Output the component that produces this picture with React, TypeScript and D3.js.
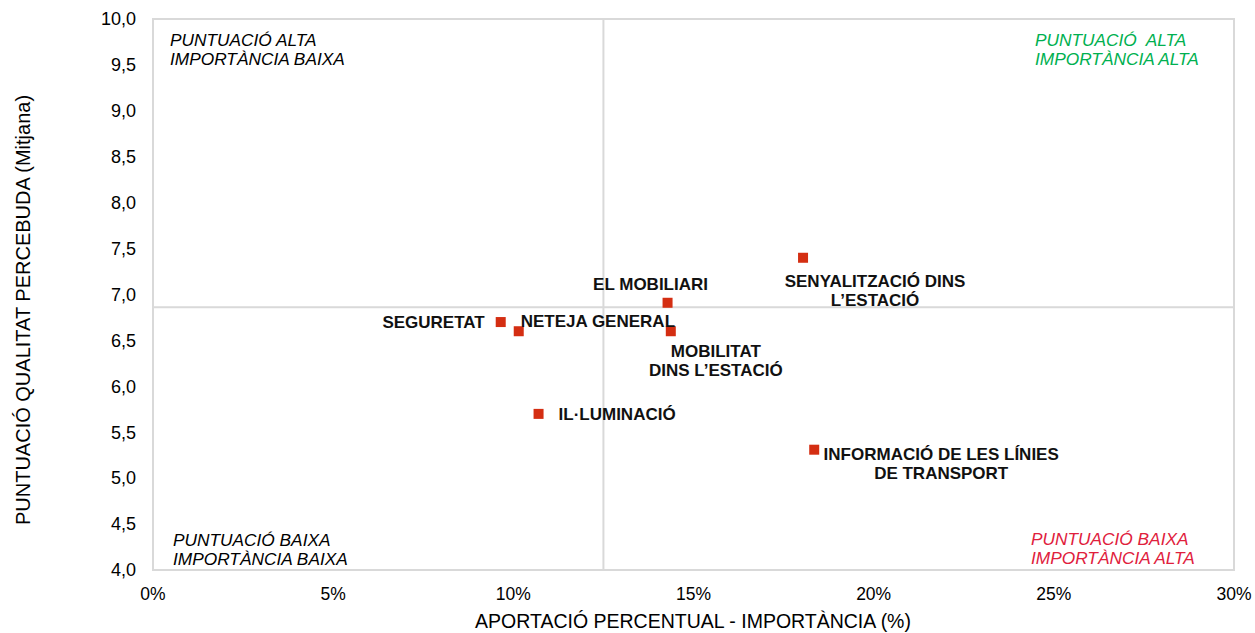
import React from 'react';
import * as d3 from 'd3';

// Dades llegides del gràfic
const items = ['SEGURETAT', 'NETEJA GENERAL', 'EL MOBILIARI', 'MOBILITAT DINS L\u2019ESTACIÓ', 'IL·LUMINACIÓ', 'SENYALITZACIÓ DINS L\u2019ESTACIÓ', 'INFORMACIÓ DE LES LÍNIES DE TRANSPORT'];
const importance = [9.65, 10.15, 14.28, 14.37, 10.7, 18.04, 18.35];
const score = [6.7, 6.6, 6.91, 6.6, 5.7, 7.4, 5.31];
const labelLines = [['SEGURETAT'], ['NETEJA GENERAL'], ['EL MOBILIARI'], ['MOBILITAT', 'DINS L\u2019ESTACIÓ'], ['IL·LUMINACIÓ'], ['SENYALITZACIÓ DINS', 'L\u2019ESTACIÓ'], ['INFORMACIÓ DE LES LÍNIES', 'DE TRANSPORT']];
const xTicks = [0, 5, 10, 15, 20, 25, 30];
const yTicks = [4, 4.5, 5, 5.5, 6, 6.5, 7, 7.5, 8, 8.5, 9, 9.5, 10];
const meanImportance = 12.5;
const meanScore = 6.86;

// label placement relative to the point: dx, dy, anchor
const labelPos: [number, number, string][] = [
  [-16, 6, 'end'],
  [2, -4, 'start'],
  [-17, -13, 'middle'],
  [45, 26, 'middle'],
  [20, 6, 'start'],
  [72, 29, 'middle'],
  [127, 10, 'middle'],
];

const W = 1255;
const H = 633;
const margin = { left: 153, right: 21, top: 19, bottom: 63 };
const font = '"Liberation Sans", Arial, sans-serif';

export default function App() {
  const x = d3.scaleLinear().domain([0, 30]).range([margin.left, W - margin.right]);
  const y = d3.scaleLinear().domain([4, 10]).range([H - margin.bottom, margin.top]);
  const fmtY = (v: number) => d3.format('.1f')(v).replace('.', ',');

  return (
    <svg width={W} height={H} style={{ position: 'absolute', left: 0, top: 0, background: '#fff' }} fontFamily={font}>
      {/* plot frame */}
      <rect x={x(0)} y={y(10)} width={x(30) - x(0)} height={y(4) - y(10)} fill="none" stroke="#d9d9d9" strokeWidth={2} />
      {/* mean lines */}
      <line x1={x(meanImportance)} x2={x(meanImportance)} y1={y(10)} y2={y(4)} stroke="#d9d9d9" strokeWidth={2} />
      <line x1={x(0)} x2={x(30)} y1={y(meanScore)} y2={y(meanScore)} stroke="#d9d9d9" strokeWidth={2} />

      {/* y ticks */}
      {yTicks.map(t => (
        <text key={t} x={136} y={y(t)} dy="0.35em" textAnchor="end" fontSize={18} fill="#000">{fmtY(t)}</text>
      ))}
      {/* x ticks */}
      {xTicks.map(t => (
        <text key={t} x={x(t)} y={600} textAnchor="middle" fontSize={17.5} fill="#000">{t + '%'}</text>
      ))}

      {/* axis titles */}
      <text x={693} y={628} textAnchor="middle" fontSize={19.5} fill="#000">APORTACIÓ PERCENTUAL - IMPORTÀNCIA (%)</text>
      <text transform={`translate(30,310) rotate(-90)`} textAnchor="middle" fontSize={20} fill="#000">PUNTUACIÓ QUALITAT PERCEBUDA (Mitjana)</text>

      {/* quadrant labels */}
      <g fontStyle="italic" fontSize={17.3}>
        <text x={170} y={46} fill="#000">PUNTUACIÓ ALTA<tspan x={170} dy={18.5}>IMPORTÀNCIA BAIXA</tspan></text>
        <text x={1035} y={46} fill="#00b050" xmlSpace="preserve">PUNTUACIÓ  ALTA<tspan x={1035} dy={18.5}>IMPORTÀNCIA ALTA</tspan></text>
        <text x={173} y={546} fill="#000">PUNTUACIÓ BAIXA<tspan x={173} dy={18.5}>IMPORTÀNCIA BAIXA</tspan></text>
        <text x={1031} y={545} fill="#e0203c">PUNTUACIÓ BAIXA<tspan x={1031} dy={18.5}>IMPORTÀNCIA ALTA</tspan></text>
      </g>

      {/* points */}
      {items.map((d, i) => (
        <rect key={d} x={x(importance[i]) - 5} y={y(score[i]) - 5} width={10} height={10} fill="#d42e12" />
      ))}

      {/* point labels */}
      {items.map((d, i) => {
        const [dx, dy, anchor] = labelPos[i];
        const px = x(importance[i]) + dx;
        return (
          <text key={d} x={px} y={y(score[i]) + dy} textAnchor={anchor} fontSize={17} fontWeight="bold" fill="#111">
            {labelLines[i].map((l, j) => (
              <tspan key={j} x={px} dy={j === 0 ? 0 : 19}>{l}</tspan>
            ))}
          </text>
        );
      })}
    </svg>
  );
}
